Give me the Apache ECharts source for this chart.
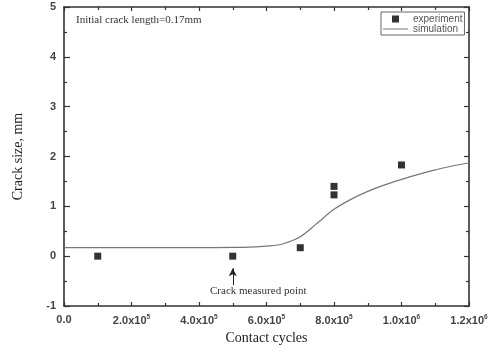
<!DOCTYPE html>
<html><head><meta charset="utf-8">
<script src="https://cdn.jsdelivr.net/npm/echarts@6/dist/echarts.min.js"></script>
<style>html,body{margin:0;padding:0;background:#fff}#c{width:493px;height:355px}</style>
</head><body><div id="c"></div>
<script>
// Experiment points: [contact cycles, crack size mm]
const expCycles = [1e5, 5e5, 7e5, 8e5, 8e5, 1e6];
const expCrack  = [0, 0, 0.17, 1.40, 1.23, 1.83];
// Simulation curve
const simCycles = [0, 1e5, 2e5, 3e5, 4e5, 5e5, 5.5e5, 6e5, 6.5e5, 7e5, 7.5e5, 8e5, 8.5e5, 9e5, 9.5e5, 1e6, 1.05e6, 1.1e6, 1.15e6, 1.2e6];
const simCrack  = [0.17, 0.17, 0.17, 0.17, 0.17, 0.175, 0.18, 0.2, 0.25, 0.39, 0.66, 0.94, 1.14, 1.3, 1.43, 1.54, 1.64, 1.73, 1.81, 1.87];
// Tick labels
const xTickBase = ['0.0', '2.0x10', '4.0x10', '6.0x10', '8.0x10', '1.0x10', '1.2x10'];
const xTickExp  = ['', '5', '5', '5', '5', '6', '6'];
const yTicks = [-1, 0, 1, 2, 3, 4, 5];

const chart = echarts.init(document.getElementById('c'));
const axisLine = {show: true, onZero: false, lineStyle: {color: '#333', width: 1.6}};
const tickLbl = {color: '#444', fontFamily: 'Liberation Sans, Arial', fontSize: 11, fontWeight: 'bold'};
const serif = 'Liberation Serif, Times New Roman, serif';
const tickStyle = {color: '#333', width: 1.2};
chart.setOption({
  animation: false,
  backgroundColor: '#fff',
  grid: {left: 64, top: 7, right: 24, bottom: 49, containLabel: false},
  legend: {
    left: 381, top: 12, orient: 'vertical', padding: [2, 2, 1, 2], itemGap: 0,
    itemWidth: 25, itemHeight: 7,
    borderColor: '#666', borderWidth: 1, borderRadius: 0,
    textStyle: {color: '#555', fontFamily: 'Liberation Sans, Arial', fontSize: 10},
    itemStyle: {borderWidth: 0},
    data: [
      {name: 'experiment', icon: 'path://M0,0h10v10h-10z'},
      {name: 'simulation', icon: 'path://M0,0h25v1h-25z'}
    ]
  },
  xAxis: [{
    type: 'value', min: 0, max: 1.2e6, interval: 2e5, position: 'bottom',
    axisLine: axisLine,
    axisTick: {inside: true, length: 4, lineStyle: tickStyle},
    minorTick: {show: true, splitNumber: 2, length: 3, lineStyle: tickStyle},
    splitLine: {show: false},
    axisLabel: {
      margin: 8, ...tickLbl,
      formatter: v => {
        const i = Math.round(v / 2e5);
        return xTickExp[i] ? '{b|' + xTickBase[i] + '}{s|' + xTickExp[i] + '}' : '{b|' + xTickBase[i] + '}';
      },
      rich: {
        b: {...tickLbl},
        s: {...tickLbl, fontSize: 6.5, padding: [0, 0, 7, 0]}
      }
    },
    name: 'Contact cycles', nameLocation: 'middle', nameGap: 22,
    nameTextStyle: {fontFamily: serif, fontSize: 14, color: '#222'}
  }, {
    type: 'value', min: 0, max: 1.2e6, interval: 2e5, position: 'top',
    axisLine: axisLine,
    axisTick: {inside: true, length: 4, lineStyle: tickStyle},
    minorTick: {show: true, splitNumber: 2, length: 3, lineStyle: tickStyle},
    splitLine: {show: false}, axisLabel: {show: false}
  }],
  yAxis: [{
    type: 'value', min: -1, max: 5, interval: 1, position: 'left',
    axisLine: axisLine,
    axisTick: {inside: true, length: 6, lineStyle: tickStyle},
    minorTick: {show: true, splitNumber: 2, length: 3, lineStyle: tickStyle},
    splitLine: {show: false},
    axisLabel: {margin: 8, ...tickLbl, formatter: v => yTicks.includes(v) ? String(v) : ''},
    name: 'Crack size, mm', nameLocation: 'middle', nameGap: 39,
    nameTextStyle: {fontFamily: serif, fontSize: 14, color: '#222'}
  }, {
    type: 'value', min: -1, max: 5, interval: 1, position: 'right',
    axisLine: axisLine,
    axisTick: {inside: true, length: 5, lineStyle: tickStyle},
    minorTick: {show: true, splitNumber: 2, length: 3, lineStyle: tickStyle},
    splitLine: {show: false}, axisLabel: {show: false}
  }],
  series: [{
    name: 'experiment', type: 'scatter', xAxisIndex: 0, yAxisIndex: 0,
    symbol: 'rect', symbolSize: 7, itemStyle: {color: '#000'},
    data: expCycles.map((x, i) => [x, expCrack[i]]),
    z: 5
  }, {
    name: 'simulation', type: 'line', xAxisIndex: 0, yAxisIndex: 0,
    smooth: 0.35, symbol: 'none',
    lineStyle: {color: '#777', width: 1.2}, itemStyle: {color: '#777'},
    data: simCycles.map((x, i) => [x, simCrack[i]]),
    markLine: {
      silent: true, symbol: ['none', 'arrow'], symbolSize: [6, 8],
      lineStyle: {color: '#222', width: 1, type: 'solid'}, label: {show: false},
      data: [[{coord: [5e5, -0.58]}, {coord: [5e5, -0.24]}]]
    }
  }],
  graphic: [{
    type: 'text', left: 76, top: 15,
    style: {text: 'Initial crack length=0.17mm', fontFamily: serif, fontSize: 11, fill: '#333'}
  }, {
    type: 'text', left: 210, top: 286,
    style: {text: 'Crack measured point', fontFamily: serif, fontSize: 11, fill: '#333'}
  }]
});
</script></body></html>
